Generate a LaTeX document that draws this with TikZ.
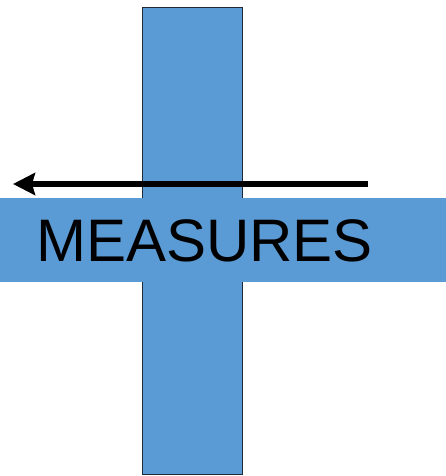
\documentclass[tikz,border=0pt]{standalone}
\usepackage{fontspec}
\setmainfont{Liberation Sans}
\usetikzlibrary{arrows.meta}
\definecolor{barblue}{HTML}{5B9BD5}
\definecolor{edgedark}{HTML}{1F2A36}
\tikzset{
  vbar/.style={fill=barblue, draw=edgedark, line width=1pt},
  hbar/.style={fill=barblue, draw=none},
  bigarrow/.style={line width=6pt, -{Stealth[length=22pt,width=22pt,inset=3pt]}},
  label/.style={font=\fontsize{60}{64}\selectfont, text=black, inner sep=0pt}
}
\begin{document}
\begin{tikzpicture}[x=1pt,y=1pt]
\useasboundingbox (0,0) rectangle (446,476);
\path[vbar] (142,1) rectangle (242,468);
\path[hbar] (0,194) rectangle (446,278);
\node[label, anchor=base west] (measures) at (36,214) {MEASURES};
\coordinate (astart) at (368,292);
\coordinate (aend) at (13,292);
\draw[bigarrow] (astart) -- (aend);
\end{tikzpicture}
\end{document}
